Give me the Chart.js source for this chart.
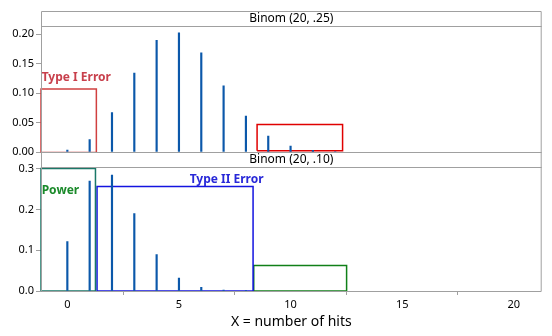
<!DOCTYPE html>
<html>
<head>
<meta charset="utf-8">
<script src="https://cdn.jsdelivr.net/npm/chart.js@4.4.1/dist/chart.umd.min.js"></script>
<style>
  html, body { margin: 0; padding: 0; background: #fff; }
  #wrap { width: 552px; height: 336px; }
</style>
</head>
<body>
<div id="wrap"><canvas id="binomChart" width="552" height="336"></canvas></div>
<script>
// number of hits, 0..20
const hits = [0, 1, 2, 3, 4, 5, 6, 7, 8, 9, 10, 11, 12, 13, 14, 15, 16, 17, 18, 19, 20];

// P(X = k) for Binom(20, .25)
const probsQuarter = [0.0032, 0.0211, 0.0669, 0.1339, 0.1897, 0.2023, 0.1686, 0.1124, 0.0609, 0.0271,
  0.0099, 0.0030, 0.0008, null, null, null, null, null, null, null, null];

// P(X = k) for Binom(20, .10)
const probsTenth = [0.1216, 0.2702, 0.2852, 0.1901, 0.0898, 0.0319, 0.0089, 0.0020, 0.0004, null,
  null, null, null, null, null, null, null, null, null, null, null];

const panelTitles = ['Binom (20, .25)', 'Binom (20, .10)'];
const yTicksTop = [0, 0.05, 0.10, 0.15, 0.20];
const yTicksBottom = [0, 0.1, 0.2, 0.3];
const xTicks = [0, 5, 10, 15, 20];

// shaded regions: [xFrom, xTo, yFrom, yTo]
const typeOneLeft = [-1.18, 1.3, -0.001, 0.107];
const typeOneRight = [8.5, 12.33, 0.002, 0.0467];
const powerLeft = [-1.18, 1.26, 0, 0.301];
const typeTwo = [1.33, 8.32, 0, 0.257];
const powerRight = [8.35, 12.51, 0, 0.063];

const FONT = "'Noto Sans', 'Open Sans', sans-serif";
const FRAME = '#a0a0a0';
const BAR = '#0b58aa';

function boxPoints(r) {
  const [x0, x1, y0, y1] = r;
  return [{x: x0, y: y0}, {x: x0, y: y1}, {x: x1, y: y1}, {x: x1, y: y0}, {x: x0, y: y0}];
}

function boxDataset(r, color, axis) {
  return {
    type: 'line',
    data: boxPoints(r),
    yAxisID: axis,
    borderColor: color,
    borderWidth: 1.5,
    pointRadius: 0,
    fill: false,
    tension: 0,
    clip: false
  };
}

// frame, panel headers and the region captions
const panelFrame = {
  id: 'panelFrame',
  afterDatasetsDraw(chart) {
    const {ctx, chartArea: a, scales} = chart;
    const midY = scales.y2.top;           // boundary between the two panels
    const headH = 14.5;
    ctx.save();
    // header strip of the lower panel
    ctx.fillStyle = '#fff';
    ctx.fillRect(a.left, midY, a.right - a.left, headH);
    ctx.strokeStyle = FRAME;
    ctx.lineWidth = 1;
    ctx.beginPath();
    ctx.rect(a.left + 0.5, a.top + 0.5, a.right - a.left - 1, a.bottom - a.top);
    ctx.moveTo(a.left, a.top + 15.5); ctx.lineTo(a.right, a.top + 15.5);
    ctx.moveTo(a.left, Math.round(midY) + 0.5); ctx.lineTo(a.right, Math.round(midY) + 0.5);
    ctx.moveTo(a.left, Math.round(midY + headH) + 0.5); ctx.lineTo(a.right, Math.round(midY + headH) + 0.5);
    ctx.stroke();

    ctx.fillStyle = '#000';
    ctx.font = '12px ' + FONT;
    ctx.textAlign = 'center';
    ctx.textBaseline = 'middle';
    const cx = (a.left + a.right) / 2;
    ctx.fillText(panelTitles[0], cx, a.top + 8);
    ctx.fillText(panelTitles[1], cx, midY + 7.5);

    const sx = scales.x, sTop = scales.y, sBot = scales.y2;
    ctx.font = 'bold 12px ' + FONT;
    ctx.textAlign = 'left';
    ctx.fillStyle = '#c8404c';
    ctx.fillText('Type I Error', sx.getPixelForValue(-1.15), sTop.getPixelForValue(0.127));
    ctx.fillStyle = '#1a8a2a';
    ctx.fillText('Power', sx.getPixelForValue(-1.15), sBot.getPixelForValue(0.248));
    ctx.fillStyle = '#2828d8';
    ctx.fillText('Type II Error', sx.getPixelForValue(5.48), sBot.getPixelForValue(0.273));
    ctx.restore();
  }
};

const ctx = document.getElementById('binomChart').getContext('2d');
new Chart(ctx, {
  type: 'bar',
  data: {
    datasets: [
      {
        data: hits.map((k, i) => ({x: k, y: probsQuarter[i]})),
        yAxisID: 'y',
        backgroundColor: BAR,
        barThickness: 1.5,
        grouped: false
      },
      {
        data: hits.map((k, i) => ({x: k, y: probsTenth[i]})),
        yAxisID: 'y2',
        backgroundColor: BAR,
        barThickness: 1.5,
        grouped: false
      },
      boxDataset(typeOneLeft, '#d04040', 'y'),
      boxDataset(typeOneRight, '#e00000', 'y'),
      boxDataset(powerLeft, '#1a7868', 'y2'),
      boxDataset(typeTwo, '#1414e0', 'y2'),
      boxDataset(powerRight, '#108018', 'y2')
    ]
  },
  options: {
    responsive: false,
    animation: false,
    layout: { padding: { top: 11, right: 10.3, left: 0, bottom: 0 } },
    plugins: { legend: { display: false }, tooltip: { enabled: false } },
    scales: {
      x: {
        type: 'linear',
        min: -1.18,
        max: 21.25,
        offset: false,
        afterBuildTicks: (axis) => { axis.ticks = xTicks.map(v => ({value: v})); },
        afterFit: (axis) => { axis.height = 45; },
        grid: { drawOnChartArea: false, tickLength: 4, color: FRAME },
        border: { display: false },
        ticks: { color: '#000', font: { family: FONT, size: 11 }, padding: 3, maxRotation: 0 },
        title: {
          display: true,
          text: 'X = number of hits',
          color: '#000',
          font: { family: FONT, size: 14 },
          padding: { top: 0, bottom: 6 }
        }
      },
      // stacked axes are laid out bottom-up, so the lower panel comes first
      y2: {
        type: 'linear',
        position: 'left',
        stack: 'panels',
        stackWeight: 139,
        min: 0,
        max: 0.3418,
        afterBuildTicks: (axis) => { axis.ticks = yTicksBottom.map(v => ({value: v})); },
        afterFit: (axis) => { axis.width = 41; },
        grid: { drawOnChartArea: false, tickLength: 5, color: FRAME },
        border: { display: false },
        ticks: { color: '#000', font: { family: FONT, size: 11 }, padding: 2,
          callback: (v) => Number(v).toFixed(1) }
      },
      y: {
        type: 'linear',
        position: 'left',
        stack: 'panels',
        stackWeight: 141,
        min: 0,
        max: 0.2396,
        afterBuildTicks: (axis) => { axis.ticks = yTicksTop.map(v => ({value: v})); },
        afterFit: (axis) => { axis.width = 41; },
        grid: { drawOnChartArea: false, tickLength: 5, color: FRAME },
        border: { display: false },
        ticks: { color: '#000', font: { family: FONT, size: 11 }, padding: 2,
          callback: (v) => Number(v).toFixed(2) }
      }
    }
  },
  plugins: [panelFrame]
});
</script>
</body>
</html>
